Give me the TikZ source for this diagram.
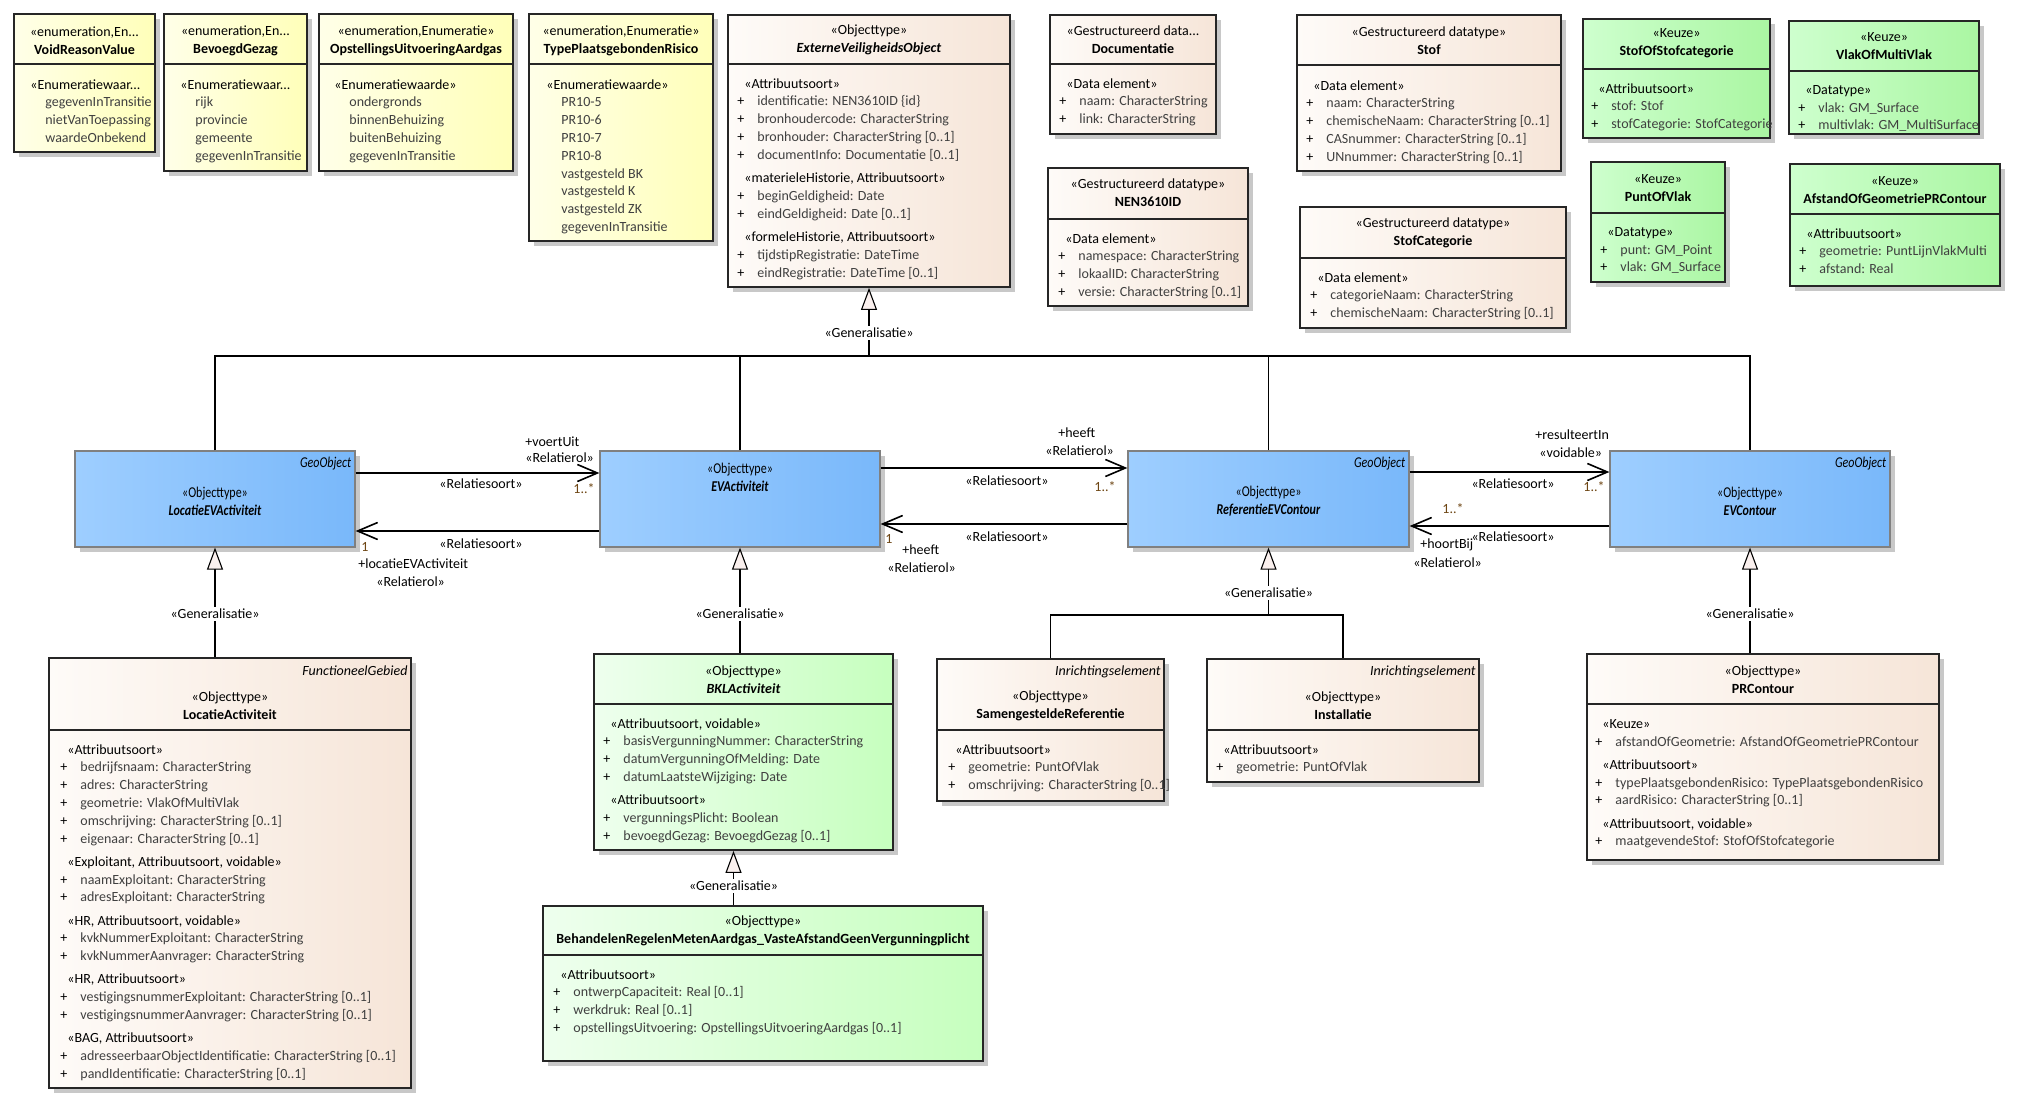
\documentclass[tikz,border=0pt]{standalone}
\usepackage{fontspec}
\setmainfont{Carlito}
\newfontfamily\smalfont{Carlito}[FakeStretch=0.8]
\usepackage{tikz}
\usetikzlibrary{arrows.meta,fit,shadows}

\definecolor{enumL}{RGB}{255,255,232}
\definecolor{enumR}{RGB}{255,255,185}
\definecolor{dtL}{RGB}{254,251,248}
\definecolor{dtR}{RGB}{246,229,216}
\definecolor{keuzeL}{RGB}{206,255,206}
\definecolor{keuzeR}{RGB}{170,246,162}
\definecolor{groenL}{RGB}{238,255,238}
\definecolor{groenR}{RGB}{198,255,190}
\definecolor{blauwL}{RGB}{158,206,255}
\definecolor{blauwR}{RGB}{121,184,250}
\definecolor{attr}{RGB}{64,64,64}
\definecolor{multkl}{RGB}{110,70,20}
\definecolor{genfill}{RGB}{250,240,238}
\definecolor{schaduw}{RGB}{200,200,200}

\newcommand{\stt}[1]{\hspace*{3.5pt}#1}
\newcommand{\att}[1]{\makebox[10pt][l]{+}\textcolor{attr}{#1}}
\newcommand{\ewa}[1]{\hspace*{7.5pt}\textcolor{attr}{#1}}
\newcommand{\klasse}[5]{\node[#2,fit={#3 #4}] (#1) {};
  \draw[deler] (#1.west |- 0,#5) -- (#1.east |- 0,#5);}

\tikzset{
  klasse/.style={draw=black!85, line width=0.9pt, inner sep=0pt,
    drop shadow={shadow xshift=2.5pt, shadow yshift=-2.5pt, fill=schaduw, opacity=1}},
  enumklasse/.style={klasse, left color=enumL, right color=enumR},
  dtklasse/.style={klasse, left color=dtL, right color=dtR},
  keuzeklasse/.style={klasse, left color=keuzeL, right color=keuzeR},
  groenklasse/.style={klasse, left color=groenL, right color=groenR},
  blauwklasse/.style={klasse, draw=black!50, line width=0.6pt, left color=blauwL, right color=blauwR},
  deler/.style={draw=black!85, line width=0.8pt},
  kop/.style={align=center, inner sep=0pt, font=\fontsize{7}{9}\selectfont},
  lijst/.style={align=left, anchor=north west, inner sep=0pt, font=\fontsize{7}{8.9}\selectfont},
  blauwkop/.style={align=center, inner sep=0pt, font=\smalfont\fontsize{7.5}{9}\selectfont},
  etiket/.style={anchor=north east, inner sep=0pt, font=\fontsize{7}{9}\selectfont\itshape},
  blauwetiket/.style={etiket, font=\smalfont\itshape\fontsize{7.5}{9}\selectfont},
  lbl/.style={inner sep=0pt},
  mult/.style={inner sep=0pt, text=multkl},
  genlbl/.style={fill=white, inner sep=1pt},
  assoc/.style={line width=0.8pt, -{Straight Barb[length=10pt,width=8.5pt,line width=0.8pt]}},
  genpijl/.style={line width=0.55pt, -{Triangle[length=11pt,width=8pt,fill=genfill,line width=0.55pt]}},
  genlijn/.style={line width=0.55pt},
}

\begin{document}
\begin{tikzpicture}[x=0.5pt,y=-0.5pt,font=\fontsize{7}{8.9}\selectfont]
  \fill[white] (0,0) rectangle (2022,1107);
  \useasboundingbox (0,0) rectangle (2022,1107);

  % enumeraties
  \klasse{vrv}{enumklasse}{(14,14)}{(155,152)}{64}
  \node[kop] (vrv-kop) at (vrv.north |- 0,40.5) {«enumeration,En...\\\textbf{VoidReasonValue}};
  \node[lijst] (vrv-lijst) at (30,79) {«Enumeratiewaar...\\\ewa{gegevenInTransitie}\\\ewa{nietVanToepassing}\\\ewa{waardeOnbekend}};

  \klasse{bgz}{enumklasse}{(164,14)}{(307,171)}{64}
  \node[kop] (bgz-kop) at (bgz.north |- 0,40.5) {«enumeration,En...\\\textbf{BevoegdGezag}};
  \node[lijst] (bgz-lijst) at (180,79) {«Enumeratiewaar...\\\ewa{rijk}\\\ewa{provincie}\\\ewa{gemeente}\\\ewa{gegevenInTransitie}};

  \klasse{oua}{enumklasse}{(319,14)}{(513,171)}{64}
  \node[kop] (oua-kop) at (oua.north |- 0,40.5) {«enumeration,Enumeratie»\\\textbf{OpstellingsUitvoeringAardgas}};
  \node[lijst] (oua-lijst) at (334,79) {«Enumeratiewaarde»\\\ewa{ondergronds}\\\ewa{binnenBehuizing}\\\ewa{buitenBehuizing}\\\ewa{gegevenInTransitie}};

  \klasse{tpr}{enumklasse}{(529,14)}{(713,241)}{64}
  \node[kop] (tpr-kop) at (tpr.north |- 0,40.5) {«enumeration,Enumeratie»\\\textbf{TypePlaatsgebondenRisico}};
  \node[lijst] (tpr-lijst) at (546,79) {«Enumeratiewaarde»\\\ewa{PR10-5}\\\ewa{PR10-6}\\\ewa{PR10-7}\\\ewa{PR10-8}\\\ewa{vastgesteld BK}\\\ewa{vastgesteld K}\\\ewa{vastgesteld ZK}\\\ewa{gegevenInTransitie}};

  % objecttypen en datatypen boven
  \klasse{evo}{dtklasse}{(728,15)}{(1010,287)}{64}
  \node[kop] (evo-kop) at (evo.north |- 0,40) {«Objecttype»\\\textbf{\textit{ExterneVeiligheidsObject}}};
  \node[lijst] (evo-lijst) at (737,78) {\stt{«Attribuutsoort»}\\
    \att{identificatie: NEN3610ID \{id\}}\\
    \att{bronhoudercode: CharacterString}\\
    \att{bronhouder: CharacterString [0..1]}\\
    \att{documentInfo: Documentatie [0..1]}\\[2.8pt]
    \stt{«materieleHistorie, Attribuutsoort»}\\
    \att{beginGeldigheid: Date}\\
    \att{eindGeldigheid: Date [0..1]}\\[2.8pt]
    \stt{«formeleHistorie, Attribuutsoort»}\\
    \att{tijdstipRegistratie: DateTime}\\
    \att{eindRegistratie: DateTime [0..1]}};

  \klasse{doc}{dtklasse}{(1050,15)}{(1216,134)}{64}
  \node[kop] (doc-kop) at (doc.north |- 0,40) {«Gestructureerd data...\\\textbf{Documentatie}};
  \node[lijst] (doc-lijst) at (1059,78) {\stt{«Data element»}\\\att{naam: CharacterString}\\\att{link: CharacterString}};

  \klasse{nen}{dtklasse}{(1048,168)}{(1248,306)}{219}
  \node[kop] (nen-kop) at (nen.north |- 0,193) {«Gestructureerd datatype»\\\textbf{NEN3610ID}};
  \node[lijst] (nen-lijst) at (1058,233) {\stt{«Data element»}\\\att{namespace: CharacterString}\\\att{lokaalID: CharacterString}\\\att{versie: CharacterString [0..1]}};

  \klasse{stof}{dtklasse}{(1297,15)}{(1561,171)}{65}
  \node[kop] (stof-kop) at (stof.north |- 0,40.5) {«Gestructureerd datatype»\\\textbf{Stof}};
  \node[lijst] (stof-lijst) at (1306,80) {\stt{«Data element»}\\\att{naam: CharacterString}\\\att{chemischeNaam: CharacterString [0..1]}\\\att{CASnummer: CharacterString [0..1]}\\\att{UNnummer: CharacterString [0..1]}};

  \klasse{stofcat}{dtklasse}{(1300,207)}{(1566,328)}{258}
  \node[kop] (stofcat-kop) at (stofcat.north |- 0,233) {«Gestructureerd datatype»\\\textbf{StofCategorie}};
  \node[lijst] (stofcat-lijst) at (1310,272) {\stt{«Data element»}\\\att{categorieNaam: CharacterString}\\\att{chemischeNaam: CharacterString [0..1]}};

  \klasse{sos}{keuzeklasse}{(1583,19)}{(1770,138)}{69}
  \node[kop] (sos-kop) at (sos.north |- 0,43) {«Keuze»\\\textbf{StofOfStofcategorie}};
  \node[lijst] (sos-lijst) at (1591,83) {\stt{«Attribuutsoort»}\\\att{stof: Stof}\\\att{stofCategorie: StofCategorie}};

  \klasse{vomv}{keuzeklasse}{(1789,21)}{(1979,134)}{71}
  \node[kop] (vomv-kop) at (vomv.north |- 0,46) {«Keuze»\\\textbf{VlakOfMultiVlak}};
  \node[lijst] (vomv-lijst) at (1798,85) {\stt{«Datatype»}\\\att{vlak: GM\_Surface}\\\att{multivlak: GM\_MultiSurface}};

  \klasse{pov}{keuzeklasse}{(1591,162)}{(1725,282)}{213}
  \node[kop] (pov-kop) at (pov.north |- 0,188) {«Keuze»\\\textbf{PuntOfVlak}};
  \node[lijst] (pov-lijst) at (1600,227) {\stt{«Datatype»}\\\att{punt: GM\_Point}\\\att{vlak: GM\_Surface}};

  \klasse{aog}{keuzeklasse}{(1790,164)}{(2000,286)}{214}
  \node[kop] (aog-kop) at (aog.north |- 0,190) {«Keuze»\\\textbf{AfstandOfGeometriePRContour}};
  \node[lijst] (aog-lijst) at (1799,228) {\stt{«Attribuutsoort»}\\\att{geometrie: PuntLijnVlakMulti}\\\att{afstand: Real}};

  % middenrij
  \node[blauwklasse,fit={(75,451) (355,547)}] (levact) {};
  \node[blauwkop] (levact-kop) at (levact.center |- 0,501) {«Objecttype»\\\textbf{\textit{LocatieEVActiviteit}}};
  \node[blauwetiket] (levact-tag) at ([shift={(-2pt,-3pt)}]levact.north east) {GeoObject};

  \node[blauwklasse,fit={(600,451) (880,547)}] (evact) {};
  \node[blauwkop] (evact-kop) at (evact.center |- 0,477.5) {«Objecttype»\\\textbf{\textit{EVActiviteit}}};

  \node[blauwklasse,fit={(1128,451) (1409,547)}] (refc) {};
  \node[blauwkop] (refc-kop) at (refc.center |- 0,501) {«Objecttype»\\\textbf{\textit{ReferentieEVContour}}};
  \node[blauwetiket] (refc-tag) at ([shift={(-2pt,-3pt)}]refc.north east) {GeoObject};

  \node[blauwklasse,fit={(1610,451) (1890,547)}] (evc) {};
  \node[blauwkop] (evc-kop) at (evc.center |- 0,501) {«Objecttype»\\\textbf{\textit{EVContour}}};
  \node[blauwetiket] (evc-tag) at ([shift={(-2pt,-3pt)}]evc.north east) {GeoObject};

  % onderste rij
  \klasse{lact}{dtklasse}{(49,658)}{(411,1088)}{730}
  \node[etiket] (lact-tag) at ([shift={(-2pt,-4pt)}]lact.north east) {FunctioneelGebied};
  \node[kop] (lact-kop) at (lact.north |- 0,705.5) {«Objecttype»\\\textbf{LocatieActiviteit}};
  \node[lijst] (lact-lijst) at (60,744) {\stt{«Attribuutsoort»}\\
    \att{bedrijfsnaam: CharacterString}\\
    \att{adres: CharacterString}\\
    \att{geometrie: VlakOfMultiVlak}\\
    \att{omschrijving: CharacterString [0..1]}\\
    \att{eigenaar: CharacterString [0..1]}\\[2.7pt]
    \stt{«Exploitant, Attribuutsoort, voidable»}\\
    \att{naamExploitant: CharacterString}\\
    \att{adresExploitant: CharacterString}\\[2.7pt]
    \stt{«HR, Attribuutsoort, voidable»}\\
    \att{kvkNummerExploitant: CharacterString}\\
    \att{kvkNummerAanvrager: CharacterString}\\[2.7pt]
    \stt{«HR, Attribuutsoort»}\\
    \att{vestigingsnummerExploitant: CharacterString [0..1]}\\
    \att{vestigingsnummerAanvrager: CharacterString [0..1]}\\[2.7pt]
    \stt{«BAG, Attribuutsoort»}\\
    \att{adresseerbaarObjectIdentificatie: CharacterString [0..1]}\\
    \att{pandIdentificatie: CharacterString [0..1]}};

  \klasse{bkl}{groenklasse}{(594,654)}{(893,850)}{704}
  \node[kop] (bkl-kop) at (bkl.north |- 0,680) {«Objecttype»\\\textbf{\textit{BKLActiviteit}}};
  \node[lijst] (bkl-lijst) at (603,718) {\stt{«Attribuutsoort, voidable»}\\
    \att{basisVergunningNummer: CharacterString}\\
    \att{datumVergunningOfMelding: Date}\\
    \att{datumLaatsteWijziging: Date}\\[2.7pt]
    \stt{«Attribuutsoort»}\\
    \att{vergunningsPlicht: Boolean}\\
    \att{bevoegdGezag: BevoegdGezag [0..1]}};

  \klasse{brm}{groenklasse}{(543,906)}{(983,1061)}{955}
  \node[kop] (brm-kop) at (brm.north |- 0,930.5) {«Objecttype»\\\textbf{BehandelenRegelenMetenAardgas\_VasteAfstandGeenVergunningplicht}};
  \node[lijst] (brm-lijst) at (553,969) {\stt{«Attribuutsoort»}\\
    \att{ontwerpCapaciteit: Real [0..1]}\\
    \att{werkdruk: Real [0..1]}\\
    \att{opstellingsUitvoering: OpstellingsUitvoeringAardgas [0..1]}};

  \klasse{samref}{dtklasse}{(937,659)}{(1164,801)}{730}
  \node[etiket] (samref-tag) at ([shift={(-2pt,-3.5pt)}]samref.north east) {Inrichtingselement};
  \node[kop] (samref-kop) at (samref.north |- 0,706) {«Objecttype»\\\textbf{SamengesteldeReferentie}};
  \node[lijst] (samref-lijst) at (948,744) {\stt{«Attribuutsoort»}\\\att{geometrie: PuntOfVlak}\\\att{omschrijving: CharacterString [0..1]}};

  \klasse{inst}{dtklasse}{(1207,659)}{(1479,782)}{730}
  \node[etiket] (inst-tag) at ([shift={(-2pt,-3.5pt)}]inst.north east) {Inrichtingselement};
  \node[kop] (inst-kop) at (inst.north |- 0,706) {«Objecttype»\\\textbf{Installatie}};
  \node[lijst] (inst-lijst) at (1216,744) {\stt{«Attribuutsoort»}\\\att{geometrie: PuntOfVlak}};

  \klasse{prc}{dtklasse}{(1587,654)}{(1939,860)}{704}
  \node[kop] (prc-kop) at (prc.north |- 0,679.5) {«Objecttype»\\\textbf{PRContour}};
  \node[lijst] (prc-lijst) at (1595,719) {\stt{«Keuze»}\\
    \att{afstandOfGeometrie: AfstandOfGeometriePRContour}\\[2.7pt]
    \stt{«Attribuutsoort»}\\
    \att{typePlaatsgebondenRisico: TypePlaatsgebondenRisico}\\
    \att{aardRisico: CharacterString [0..1]}\\[2.7pt]
    \stt{«Attribuutsoort, voidable»}\\
    \att{maatgevendeStof: StofOfStofcategorie}};

  % generalisaties
  \coordinate (bus) at (0,356);
  \draw[genlijn] (levact.north) -- (levact.north |- bus) -- (evc.north |- bus) -- (evc.north);
  \draw[genlijn] (evact.north) -- (evact.north |- bus);
  \draw[genlijn] (refc.north) -- (refc.north |- bus);
  \draw[genpijl] (evo.south |- bus) -- (evo.south);
  \node[genlbl] (gen0) at (evo.south |- 0,333) {«Generalisatie»};

  \draw[genpijl] (lact.north -| levact.south) -- (levact.south);
  \node[genlbl] (gen1) at (levact.south |- 0,614) {«Generalisatie»};
  \draw[genpijl] (bkl.north -| evact.south) -- (evact.south);
  \node[genlbl] (gen2) at (evact.south |- 0,614) {«Generalisatie»};
  \coordinate (rbus) at (0,615);
  \draw[genlijn] (samref.north) -- (samref.north |- rbus) -- (inst.north |- rbus) -- (inst.north);
  \draw[genpijl] (refc.south |- rbus) -- (refc.south);
  \node[genlbl] (gen3) at (refc.south |- 0,593) {«Generalisatie»};
  \draw[genpijl] (prc.north -| evc.south) -- (evc.south);
  \node[genlbl] (gen4) at (evc.south |- 0,614) {«Generalisatie»};
  \coordinate (bklvoet) at ([xshift=-5pt]bkl.south);
  \draw[genpijl] (brm.north -| bklvoet) -- (bklvoet);
  \node[genlbl] (gen5) at (bklvoet |- 0,886) {«Generalisatie»};

  % relaties
  \draw[assoc] ([yshift=13pt]levact.east) -- ([yshift=13pt]levact.east -| evact.west);
  \node[lbl,anchor=west] (r1a) at (525,442) {+voertUit};
  \node[lbl,anchor=west] (r1b) at (525,458) {«Relatierol»};
  \node[lbl] (r1c) at (481,484) {«Relatiesoort»};
  \node[mult,anchor=west] (r1d) at (573,489) {1..*};

  \draw[assoc] ([yshift=-16pt]evact.west) -- ([yshift=-16pt]evact.west -| levact.east);
  \node[mult,anchor=west] (r2d) at (361,547) {1};
  \node[lbl,anchor=west] (r2a) at (358,564) {+locatieEVActiviteit};
  \node[lbl,anchor=west] (r2b) at (376,582) {«Relatierol»};
  \node[lbl] (r2c) at (481,544) {«Relatiesoort»};

  \draw[assoc] ([yshift=15.5pt]evact.east) -- ([yshift=15.5pt]evact.east -| refc.west);
  \node[lbl,anchor=west] (r3a) at (1058,433) {+heeft};
  \node[lbl,anchor=west] (r3b) at (1045,451) {«Relatierol»};
  \node[lbl] (r3c) at (1007,481) {«Relatiesoort»};
  \node[mult,anchor=west] (r3d) at (1094,487) {1..*};

  \draw[assoc] ([yshift=-12.5pt]refc.west) -- ([yshift=-12.5pt]refc.west -| evact.east);
  \node[mult,anchor=west] (r4d) at (885,539) {1};
  \node[lbl,anchor=west] (r4a) at (902,550) {+heeft};
  \node[lbl,anchor=west] (r4b) at (887,568) {«Relatierol»};
  \node[lbl] (r4c) at (1007,537) {«Relatiesoort»};

  \draw[assoc] ([yshift=13.5pt]refc.east) -- ([yshift=13.5pt]refc.east -| evc.west);
  \node[lbl,anchor=west] (r5a) at (1535,435) {+resulteertIn};
  \node[lbl,anchor=west] (r5b) at (1539,453) {«voidable»};
  \node[lbl] (r5c) at (1513,484) {«Relatiesoort»};
  \node[mult,anchor=west] (r5d) at (1583,487) {1..*};

  \draw[assoc] ([yshift=-13.5pt]evc.west) -- ([yshift=-13.5pt]evc.west -| refc.east);
  \node[mult,anchor=west] (r6d) at (1442,509) {1..*};
  \node[lbl,anchor=west] (r6a) at (1420,545) {+hoortBij};
  \node[lbl,anchor=west] (r6b) at (1413,563) {«Relatierol»};
  \node[lbl] (r6c) at (1513,537) {«Relatiesoort»};
\end{tikzpicture}
\end{document}
